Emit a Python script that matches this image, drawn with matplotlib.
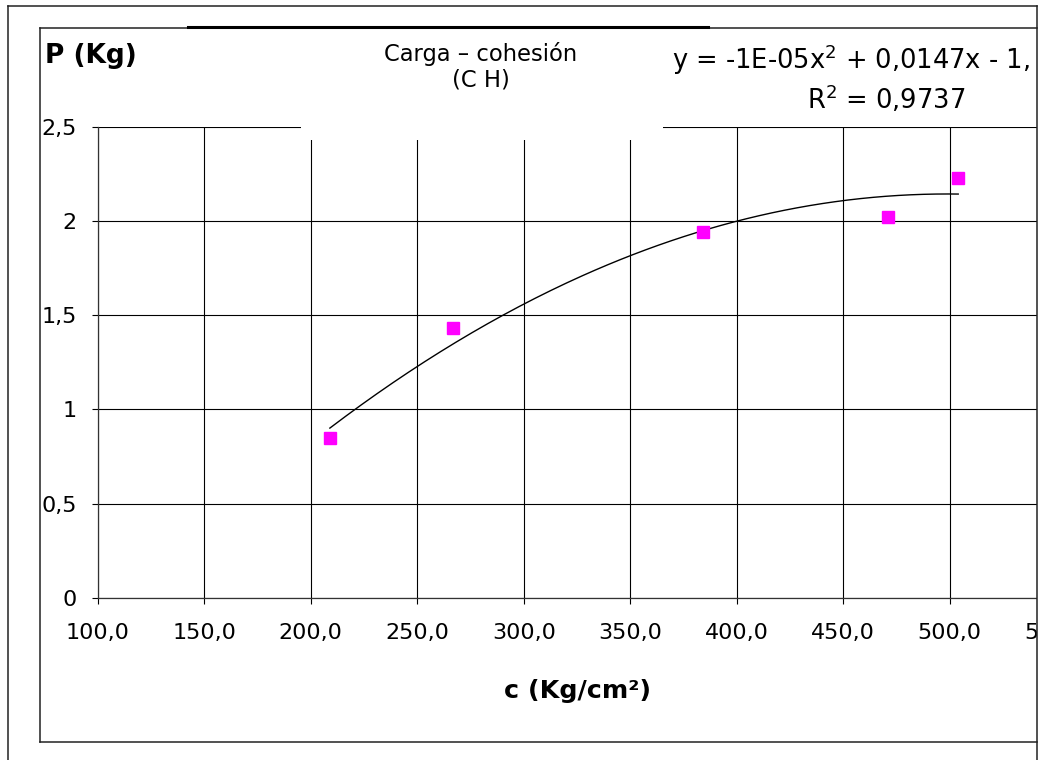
import numpy as np
import matplotlib.pyplot as plt
from matplotlib.patches import Rectangle
from matplotlib.lines import Line2D

plt.rcParams['font.family'] = ['DejaVu Sans']

# datos
cohesion = [209, 267, 384, 471, 504]        # c (Kg/cm²)
carga = [0.85, 1.43, 1.94, 2.02, 2.23]      # P (Kg)

x_ticks = [100, 150, 200, 250, 300, 350, 400, 450, 500, 550]
x_labels = ['100,0', '150,0', '200,0', '250,0', '300,0',
            '350,0', '400,0', '450,0', '500,0', '550,0']
y_ticks = [0, 0.5, 1, 1.5, 2, 2.5]
y_labels = ['0', '0,5', '1', '1,5', '2', '2,5']

# tamaño de la figura en pixeles
W, H = 1047, 760


def fx(px):
    return px / W


def fy(py):
    return 1 - py / H


fig = plt.figure(figsize=(W / 100, H / 100), dpi=100)
ax = fig.add_axes([fx(97.7), fy(597.7), fx(1056.2) - fx(97.7), fy(126.7) - fy(597.7)])

ax.set_xlim(100, 550)
ax.set_ylim(0, 2.5)
ax.set_xticks(x_ticks, x_labels)
ax.set_yticks(y_ticks, y_labels)
ax.tick_params(axis='x', direction='out', length=4.5, width=0.8, pad=13.5, labelsize=16)
ax.tick_params(axis='y', direction='out', length=4.5, width=0.8, pad=10.5, labelsize=16)
ax.grid(True, color='black', lw=0.8)
ax.set_axisbelow(True)
for s in ['top', 'right']:
    ax.spines[s].set_visible(False)
for s in ['left', 'bottom']:
    ax.spines[s].set_color('#333333')
    ax.spines[s].set_linewidth(0.9)

# línea de tendencia polinómica (grado 2)
coef = np.polyfit(cohesion, carga, 2)
xs = np.linspace(min(cohesion), max(cohesion), 200)
ax.plot(xs, np.polyval(coef, xs), color='black', lw=1, zorder=3)
ax.plot(cohesion, carga, 's', color='#FF00FF', ms=9, mec='#FF00FF', zorder=4, clip_on=False)

# cajas blancas del título y de la ecuación
fig.add_artist(Rectangle((fx(301), fy(140)), fx(663) - fx(301), fy(28) - fy(140),
                         transform=fig.transFigure, facecolor='white', edgecolor='none', zorder=5))
fig.add_artist(Rectangle((fx(663), fy(126)), fx(1037) - fx(663), fy(28) - fy(126),
                         transform=fig.transFigure, facecolor='white', edgecolor='none', zorder=5))
# recorte a la derecha
fig.add_artist(Rectangle((fx(1037), 0), 1 - fx(1037), 1,
                         transform=fig.transFigure, facecolor='white', edgecolor='none', zorder=6))

# marcos
def fline(x0, y0, x1, y1, lw=1.1, color='#222222'):
    fig.add_artist(Line2D([fx(x0), fx(x1)], [fy(y0), fy(y1)], transform=fig.transFigure,
                          color=color, lw=lw, zorder=7))


fline(8, 6, 8, 760)
fline(8, 6, 1037, 6)
fline(1037, 6, 1037, 760)
fline(40, 28, 40, 742)
fline(40, 28, 1037, 28)
fline(40, 742, 1037, 742)
fline(188, 27, 708, 27, lw=2.2, color='black')

# textos
fig.text(fx(45), fy(63), 'P (Kg)', fontsize=19, fontweight='bold', va='baseline', zorder=8)
fig.text(fx(481), fy(61), 'Carga – cohesión', fontsize=16.3, ha='center', va='baseline', zorder=8)
fig.text(fx(481), fy(86.5), '(C H)', fontsize=16.3, ha='center', va='baseline', zorder=8)
fig.text(fx(672), fy(69), 'y = -1E-05x$^2$ + 0,0147x - 1,', fontsize=18.5, ha='left', va='baseline', zorder=8)
fig.text(fx(886), fy(109), 'R$^2$ = 0,9737', fontsize=18.5, ha='center', va='baseline', zorder=8)
fig.text(fx(578), fy(698), 'c (Kg/cm²)', fontsize=18.3, fontweight='bold', ha='center', va='baseline', zorder=8)

fig.savefig('out.png', dpi=100)
